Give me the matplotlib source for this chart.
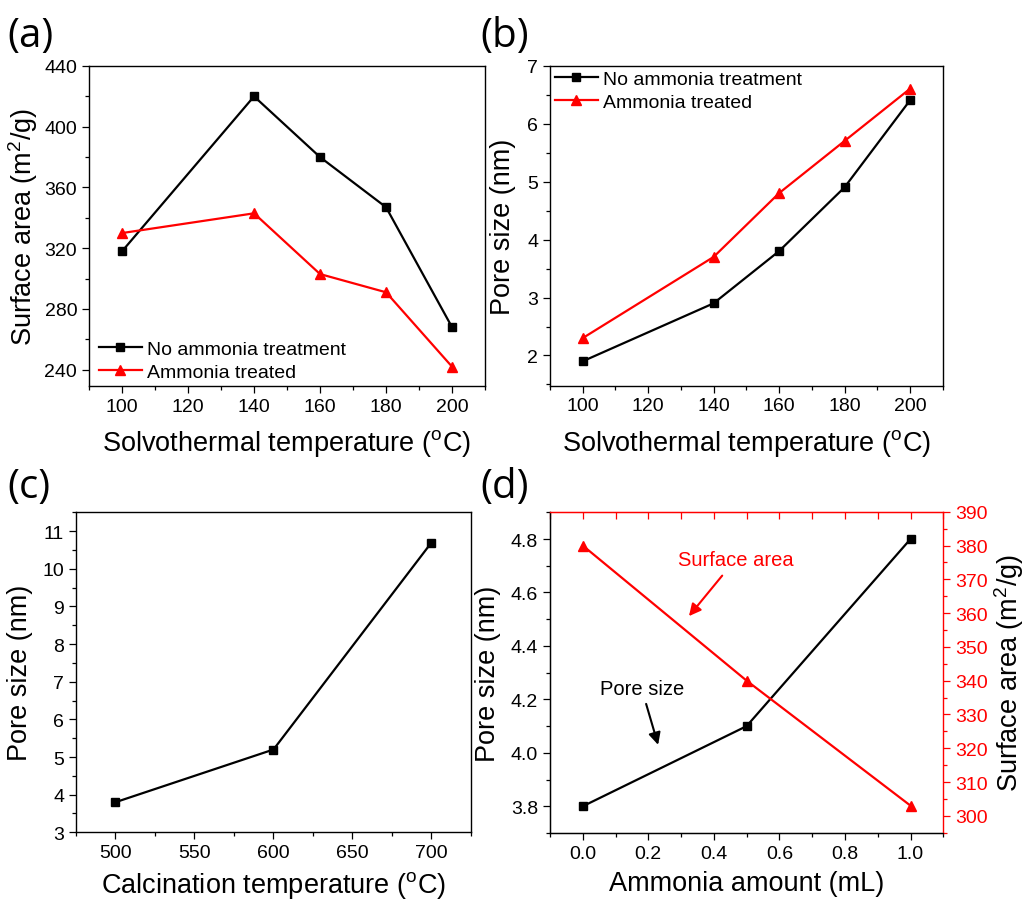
import matplotlib
matplotlib.use("Agg")
import matplotlib.pyplot as plt
from matplotlib.ticker import MultipleLocator, FormatStrFormatter, NullFormatter

plt.rcParams["font.family"] = ["Liberation Sans", "DejaVu Sans"]
plt.rcParams["mathtext.fontset"] = "custom"
plt.rcParams["mathtext.rm"] = "Liberation Sans"
plt.rcParams["mathtext.it"] = "Liberation Sans:italic"

# (a), (b): solvothermal temperature series
solvo_temp = [100, 140, 160, 180, 200]
area_no_nh3 = [318, 420, 380, 347, 268]
area_nh3 = [330, 343, 303, 291, 242]
pore_no_nh3 = [1.9, 2.9, 3.8, 4.9, 6.4]
pore_nh3 = [2.3, 3.7, 4.8, 5.7, 6.6]

# (c): calcination temperature
calc_temp = [500, 600, 700]
calc_pore = [3.8, 5.2, 10.7]

# (d): ammonia amount
nh3_amount = [0.0, 0.5, 1.0]
nh3_pore = [3.8, 4.1, 4.8]
nh3_area = [380, 340, 303]

LEG_LABELS = ["No ammonia treatment", "Ammonia treated"]
DEG = r"($\mathregular{^o}$C)"
AREA_LABEL = r"Surface area (m$\mathregular{^2}$/g)"

TICK_FS = 14
LABEL_FS = 19.5
LW = 1.6

fig = plt.figure(figsize=(10.27, 9.04), dpi=100)


def style_axes(ax):
    ax.tick_params(which="both", direction="out", top=False, right=False,
                   labelsize=TICK_FS, width=0.9)
    ax.tick_params(which="major", length=5)
    ax.tick_params(which="minor", length=3)
    for s in ax.spines.values():
        s.set_linewidth(1.0)


def plot_black(ax, x, y, **kw):
    return ax.plot(x, y, color="black", lw=LW, marker="s", ms=6, **kw)


def plot_red(ax, x, y, **kw):
    return ax.plot(x, y, color="red", lw=LW, marker="^", ms=7.5, **kw)


# (a) surface area vs solvothermal temperature
ax_a = fig.add_axes([0.0867, 0.5719, 0.3856, 0.354])
plot_black(ax_a, solvo_temp, area_no_nh3, label=LEG_LABELS[0])
plot_red(ax_a, solvo_temp, area_nh3, label=LEG_LABELS[1])
ax_a.set_xlim(90, 210)
ax_a.set_ylim(229.3, 440)
ax_a.xaxis.set_major_locator(MultipleLocator(20))
ax_a.xaxis.set_minor_locator(MultipleLocator(10))
ax_a.yaxis.set_major_locator(MultipleLocator(40))
ax_a.yaxis.set_minor_locator(MultipleLocator(20))
style_axes(ax_a)
ax_a.set_xlabel("Solvothermal temperature " + DEG, fontsize=LABEL_FS, labelpad=9)
ax_a.set_ylabel(AREA_LABEL, fontsize=LABEL_FS, labelpad=3)
ax_a.legend(loc="lower left", bbox_to_anchor=(0.015, 0.005), frameon=False,
            fontsize=14, numpoints=1, handlelength=2.2, handletextpad=0.3,
            labelspacing=0.25, borderaxespad=0, borderpad=0.2)

# (b) pore size vs solvothermal temperature
ax_b = fig.add_axes([0.5355, 0.5723, 0.3824, 0.354])
plot_black(ax_b, solvo_temp, pore_no_nh3, label=LEG_LABELS[0])
plot_red(ax_b, solvo_temp, pore_nh3, label=LEG_LABELS[1])
ax_b.set_xlim(90, 210)
ax_b.set_ylim(1.48, 7)
ax_b.xaxis.set_major_locator(MultipleLocator(20))
ax_b.xaxis.set_minor_locator(MultipleLocator(10))
ax_b.yaxis.set_major_locator(MultipleLocator(1))
ax_b.yaxis.set_minor_locator(MultipleLocator(0.5))
style_axes(ax_b)
ax_b.set_xlabel("Solvothermal temperature " + DEG, fontsize=LABEL_FS, labelpad=9)
ax_b.set_ylabel("Pore size (nm)", fontsize=LABEL_FS, labelpad=8)
ax_b.legend(loc="upper left", bbox_to_anchor=(0.0, 1.0), frameon=False,
            fontsize=14, numpoints=1, handlelength=2.2, handletextpad=0.3,
            labelspacing=0.25, borderaxespad=0, borderpad=0.25)

# (c) pore size vs calcination temperature
ax_c = fig.add_axes([0.074, 0.0782, 0.3846, 0.3547])
plot_black(ax_c, calc_temp, calc_pore)
ax_c.set_xlim(475, 725)
ax_c.set_ylim(3, 11.52)
ax_c.xaxis.set_major_locator(MultipleLocator(50))
ax_c.xaxis.set_minor_locator(MultipleLocator(25))
ax_c.yaxis.set_major_locator(MultipleLocator(1))
ax_c.yaxis.set_minor_locator(MultipleLocator(0.5))
style_axes(ax_c)
ax_c.set_xlabel("Calcination temperature " + DEG, fontsize=LABEL_FS, labelpad=6)
ax_c.set_ylabel("Pore size (nm)", fontsize=LABEL_FS, labelpad=7)

# (d) pore size and surface area vs ammonia amount
ax_d = fig.add_axes([0.5355, 0.0774, 0.383, 0.3554])
ax_d2 = ax_d.twinx()
plot_black(ax_d, nh3_amount, nh3_pore)
plot_red(ax_d2, nh3_amount, nh3_area)
ax_d.set_xlim(-0.1, 1.1)
ax_d.set_ylim(3.70, 4.902)
ax_d2.set_ylim(294.9, 390)
ax_d.xaxis.set_major_locator(MultipleLocator(0.2))
ax_d.xaxis.set_minor_locator(MultipleLocator(0.1))
ax_d.xaxis.set_major_formatter(FormatStrFormatter("%.1f"))
ax_d.yaxis.set_major_locator(MultipleLocator(0.2))
ax_d.yaxis.set_minor_locator(MultipleLocator(0.1))
ax_d.yaxis.set_major_formatter(FormatStrFormatter("%.1f"))
style_axes(ax_d)
ax_d2.yaxis.set_major_locator(MultipleLocator(10))
ax_d2.yaxis.set_minor_locator(MultipleLocator(5))
ax_d2.tick_params(which="both", direction="out", colors="red",
                  labelsize=TICK_FS, width=0.9, right=True)
ax_d2.tick_params(which="major", length=5)
ax_d2.tick_params(which="minor", length=3)
for side in ("right", "top"):
    ax_d2.spines[side].set_color("red")
    ax_d2.spines[side].set_linewidth(1.0)
ax_d.spines["top"].set_visible(False)
ax_d.spines["right"].set_visible(False)
top_ax = ax_d.secondary_xaxis("top")
top_ax.xaxis.set_major_locator(MultipleLocator(0.1))
top_ax.xaxis.set_major_formatter(NullFormatter())
top_ax.tick_params(direction="in", length=5, width=0.9, colors="red")
top_ax.spines["top"].set_color("red")
ax_d.set_xlabel("Ammonia amount (mL)", fontsize=LABEL_FS, labelpad=6)
ax_d.set_ylabel("Pore size (nm)", fontsize=LABEL_FS, labelpad=7)
ax_d2.set_ylabel(AREA_LABEL, fontsize=LABEL_FS, labelpad=3)

ax_d2.annotate("Surface area", xy=(0.324, 359.1), xytext=(0.467, 376.0),
               ha="center", va="center", color="red", fontsize=14.5,
               arrowprops=dict(arrowstyle="-|>", color="red", lw=1.5,
                               mutation_scale=18, shrinkA=4, shrinkB=0))
ax_d.annotate("Pore size", xy=(0.230, 4.030), xytext=(0.180, 4.239),
              ha="center", va="center", color="black", fontsize=14.5,
              arrowprops=dict(arrowstyle="-|>", color="black", lw=1.5,
                              mutation_scale=18, shrinkA=2, shrinkB=0))

# panel letters
for label, x, y in [("(a)", 0.007, 0.982), ("(b)", 0.468, 0.982),
                    ("(c)", 0.007, 0.483), ("(d)", 0.468, 0.483)]:
    fig.text(x, y, label, fontsize=29, family="Open Sans", va="top", ha="left")

fig.savefig("out.png", dpi=100)
